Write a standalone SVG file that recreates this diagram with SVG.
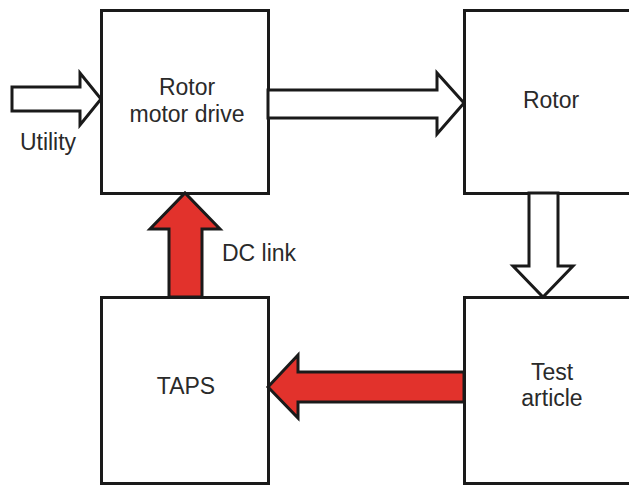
<svg xmlns="http://www.w3.org/2000/svg" width="629" height="485" viewBox="0 0 629 485">
<style>
.box{fill:#fff;stroke:#1a1a1a;stroke-width:3}
.arr{fill:#fff;stroke:#1a1a1a;stroke-width:3;stroke-linejoin:miter}
.red{fill:#e2322c;stroke:#1a1a1a;stroke-width:3;stroke-linejoin:miter}
text{font-family:"Liberation Sans",Arial,sans-serif;font-size:23px;fill:#2a2a2a;text-anchor:middle}
</style>
<rect width="629" height="485" fill="#fff"/>
<g id="drive"><rect class="box" x="101.5" y="10.5" width="167" height="183"/><text x="187" y="95">Rotor</text><text x="187" y="122">motor drive</text></g>
<g id="rotor"><rect class="box" x="464.5" y="10.5" width="180" height="183"/><text x="551" y="108">Rotor</text></g>
<g id="taps"><rect class="box" x="101.5" y="297.5" width="167" height="186"/><text x="186" y="394">TAPS</text></g>
<g id="test"><rect class="box" x="464.5" y="297.5" width="180" height="186"/><text x="552" y="380">Test</text><text x="552" y="406">article</text></g>
<g id="connectors">
<polygon class="arr" points="12,87 80,87 80,73 101,99 80,125 80,111 12,111"/>
<polygon class="arr" points="268,90 437,90 437,73 464,103 437,134 437,118 268,118"/>
<polygon class="arr" points="529,193 558,193 558,266 573,266 543,297 513,266 529,266"/>
<polygon class="red" points="169,297 202,297 202,229 220,229 185,193 150,229 169,229"/>
<polygon class="red" points="464,372 298,372 298,355 268,387 298,418 298,402 464,402"/>
</g>
<text x="48" y="150">Utility</text>
<text x="259" y="261">DC link</text>
</svg>
